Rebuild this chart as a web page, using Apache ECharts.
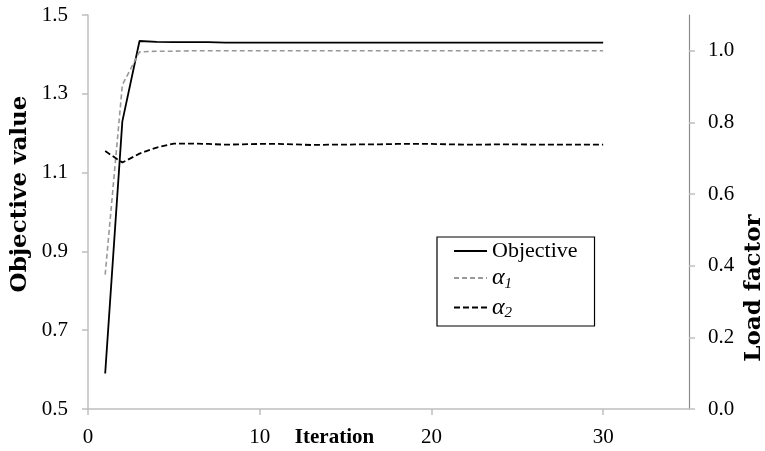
<!DOCTYPE html>
<html>
<head>
<meta charset="utf-8">
<script src="https://cdn.jsdelivr.net/npm/echarts@6/dist/echarts.min.js"></script>
<style>html,body{margin:0;padding:0;background:#fff}#c{width:765px;height:451px}</style>
</head>
<body>
<div id="c"></div>
<script>
const iterations = [1,2,3,4,5,6,7,8,9,10,11,12,13,14,15,16,17,18,19,20,21,22,23,24,25,26,27,28,29,30];
const objective = [0.59,1.23,1.434,1.432,1.431,1.431,1.431,1.430,1.430,1.430,1.430,1.430,1.430,1.430,1.430,1.430,1.430,1.430,1.430,1.430,1.430,1.430,1.430,1.430,1.430,1.430,1.430,1.430,1.430,1.430];
const alpha1 = [0.375,0.905,0.997,0.999,0.999,1.000,1.000,1.000,1.000,1.000,1.000,1.000,1.000,1.000,1.000,1.000,1.000,1.000,1.000,1.000,1.000,1.000,1.000,1.000,1.000,1.000,1.000,1.000,1.000,1.000];
const alpha2 = [0.72,0.688,0.713,0.730,0.741,0.741,0.740,0.738,0.739,0.740,0.740,0.739,0.737,0.738,0.738,0.739,0.739,0.740,0.740,0.740,0.739,0.738,0.738,0.739,0.739,0.738,0.738,0.738,0.738,0.738];
const xTicks = [0,10,20,30];
const leftTicks = [0.5,0.7,0.9,1.1,1.3,1.5];
const rightTicks = [0,0.2,0.4,0.6,0.8,1.0];

const font = 'Liberation Serif';
const chart = echarts.init(document.getElementById('c'), null, {renderer:'canvas'});
const pair = a => iterations.map((x,i)=>[x,a[i]]);
chart.setOption({
  animation:false,
  grid:{left:88,right:76,top:15,bottom:42,containLabel:false,outerBoundsMode:'none'},
  xAxis:{type:'value',min:0,max:35,
    name:'Iteration',nameLocation:'middle',nameGap:18,nameMoveOverlap:false,
    nameTextStyle:{fontFamily:font,fontSize:21,fontWeight:'bold',color:'#000',verticalAlign:'top',padding:[0,108,0,0]},
    axisLine:{lineStyle:{color:'#bfbfbf',width:1.5}},
    axisTick:{show:true,length:6,customValues:xTicks,lineStyle:{color:'#bfbfbf',width:1.5}},
    axisLabel:{customValues:xTicks,fontFamily:font,fontSize:21,color:'#000',margin:18},
    splitLine:{show:false}},
  yAxis:[
    {type:'value',min:0.5,max:1.5,position:'left',
     name:'Objective value',nameLocation:'middle',nameRotate:90,nameGap:56,nameMoveOverlap:false,
     nameTextStyle:{fontFamily:'DejaVu Serif',fontSize:23,fontWeight:'bold',color:'#000',padding:[0,0,0,36]},
     axisLine:{show:true,lineStyle:{color:'#bfbfbf',width:1.5}},
     axisTick:{show:true,length:6,customValues:leftTicks,lineStyle:{color:'#bfbfbf',width:1.5}},
     axisLabel:{customValues:leftTicks,formatter:v=>v.toFixed(1),fontFamily:font,fontSize:21,color:'#000',margin:20},
     splitLine:{show:false}},
    {type:'value',min:0,max:1.1,position:'right',
     name:'Load factor',nameLocation:'middle',nameRotate:90,nameGap:54,nameMoveOverlap:false,
     nameTextStyle:{fontFamily:'DejaVu Serif',fontSize:23,fontWeight:'bold',color:'#000',padding:[0,152,0,0]},
     axisLine:{show:true,lineStyle:{color:'#8c8c8c',width:1.2}},
     axisTick:{show:true,length:6,customValues:rightTicks,lineStyle:{color:'#bfbfbf',width:1.5}},
     axisLabel:{customValues:rightTicks,formatter:v=>v.toFixed(1),fontFamily:font,fontSize:21,color:'#000',margin:19},
     splitLine:{show:false}},
  ],
  legend:{
    orient:'vertical',left:437,top:237,
    padding:[3,17,5,16],itemGap:4,itemWidth:33,itemHeight:14,
    borderColor:'#000',borderWidth:1.2,backgroundColor:'#fff',
    itemStyle:{opacity:0},
    textStyle:{fontFamily:font,fontSize:22,color:'#000',
      rich:{a:{fontFamily:font,fontSize:24,fontStyle:'italic',color:'#000'},
            s:{fontFamily:font,fontSize:15,fontStyle:'italic',color:'#000',padding:[12,0,0,0]}}},
    formatter:n=>n==='Objective'?'Objective':(n==='alpha1'?'{a|α}{s|1}':'{a|α}{s|2}'),
    data:['Objective','alpha1','alpha2']
  },
  series:[
    {name:'Objective',type:'line',yAxisIndex:0,data:pair(objective),symbol:'none',
     lineStyle:{color:'#000',width:1.8,type:'solid'},itemStyle:{color:'#000'}},
    {name:'alpha1',type:'line',yAxisIndex:1,data:pair(alpha1),symbol:'none',
     lineStyle:{color:'#999',width:1.6,type:[5,3]},itemStyle:{color:'#999'}},
    {name:'alpha2',type:'line',yAxisIndex:1,data:pair(alpha2),symbol:'none',
     lineStyle:{color:'#000',width:1.8,type:[6,3]},itemStyle:{color:'#000'}}
  ]
});
</script>
</body>
</html>
